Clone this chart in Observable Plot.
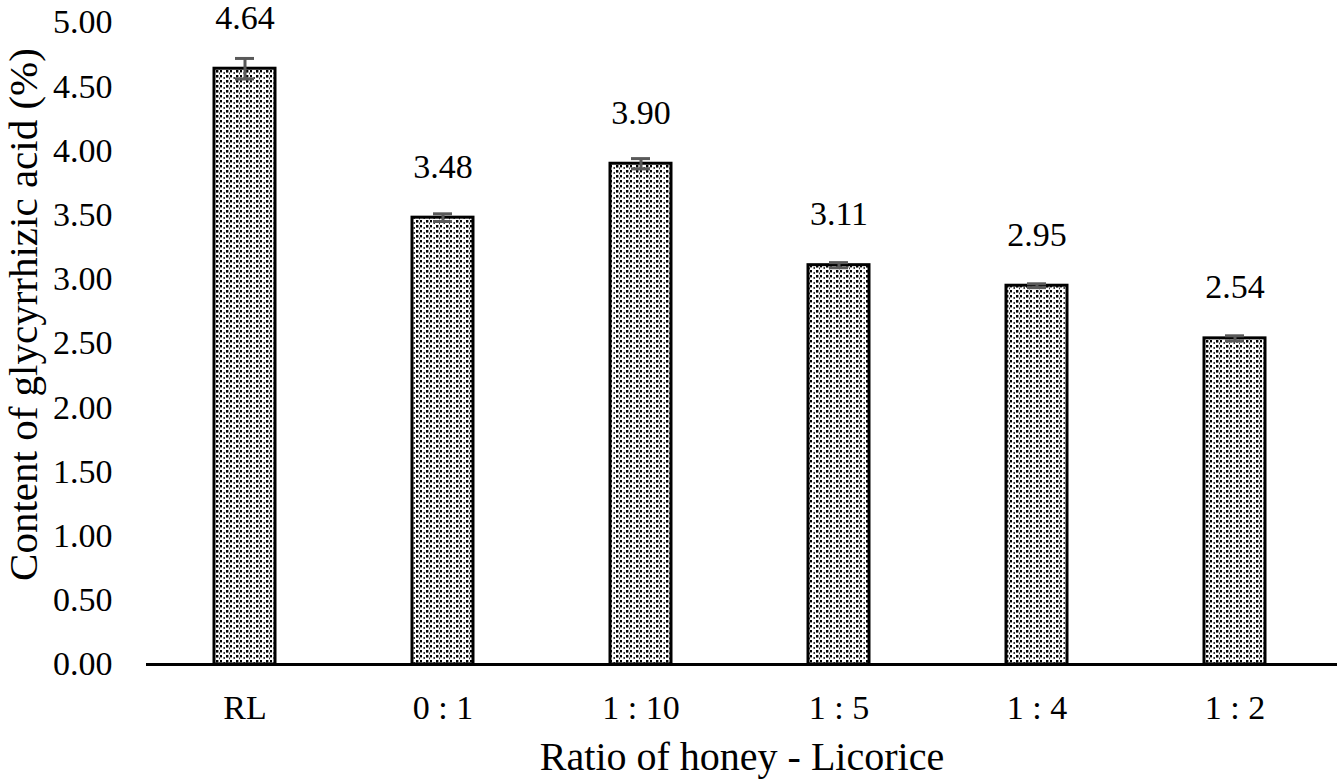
<!DOCTYPE html>
<html>
<head>
<meta charset="utf-8">
<script src="https://cdn.jsdelivr.net/npm/d3@7"></script>
<script src="https://cdn.jsdelivr.net/npm/@observablehq/plot@0.6"></script>
<style>
  html, body { margin: 0; padding: 0; background: #fff; }
  #chart { width: 1337px; height: 782px; }
</style>
</head>
<body>
<div id="chart"></div>
<script>
const categories = ["RL", "0 : 1", "1 : 10", "1 : 5", "1 : 4", "1 : 2"];
const values = [4.64, 3.48, 3.90, 3.11, 2.95, 2.54];
const errors = [0.08, 0.03, 0.04, 0.02, 0.015, 0.02];
const yTicks = [0, 0.5, 1, 1.5, 2, 2.5, 3, 3.5, 4, 4.5, 5];

const data = categories.map((c, i) => ({cat: c, v: values[i], e: errors[i]}));
const font = "Liberation Serif, Times New Roman, serif";

const chart = Plot.plot({
  width: 1337,
  height: 782,
  marginLeft: 146,
  marginRight: 0,
  marginTop: 22,
  marginBottom: 118,
  style: {fontFamily: font, fontSize: "34px", color: "#000", background: "#fff"},
  x: {domain: categories, range: [146, 1334], paddingInner: 0.69, paddingOuter: 0.345, label: null},
  y: {domain: [0, 5], label: null},
  marks: [
    Plot.barY(data, {x: "cat", y: "v", fill: "url(#dotpat)", stroke: "#000", strokeWidth: 3}),
    Plot.ruleX(data, {x: "cat", y1: d => d.v - d.e, y2: d => d.v + d.e, stroke: "#595959", strokeWidth: 3}),
    Plot.tickY(data, {x: "cat", y: d => d.v + d.e, stroke: "#595959", strokeWidth: 3, inset: 21}),
    Plot.tickY(data, {x: "cat", y: d => d.v - d.e, stroke: "#595959", strokeWidth: 3, inset: 21}),
    Plot.text(data, {x: "cat", y: "v", text: d => d.v.toFixed(2), dy: -51, fontSize: 34, fill: "#000"}),
    Plot.axisY({ticks: yTicks, tickFormat: d => d.toFixed(2), tickSize: 0, tickPadding: 34, fontSize: 34, label: null}),
    Plot.axisX({tickSize: 0, tickPadding: 30, fontSize: 34, label: null}),
    Plot.ruleX([0], {x: () => 146, stroke: "#000", strokeWidth: 3}),
    Plot.ruleY([0], {stroke: "#000", strokeWidth: 3}),
    Plot.text(["Ratio of honey - Licorice"], {frameAnchor: "bottom", dy: 105, fontSize: 40, fill: "#000"}),
    Plot.text(["Content of glycyrrhizic acid (%)"], {frameAnchor: "left", dx: -123, dy: -29, rotate: -90, textAnchor: "middle", fontSize: 41, fill: "#000"})
  ]
});

// add dotted pattern definition
const ns = "http://www.w3.org/2000/svg";
const defs = document.createElementNS(ns, "defs");
defs.innerHTML = `
<pattern id="dotpat" patternUnits="userSpaceOnUse" width="10" height="5">
  <rect width="10" height="5" fill="#fff"/>
  <rect x="0" y="0" width="2" height="2.4" fill="#000"/>
  <rect x="3.5" y="2" width="1.4" height="2" fill="#222"/>
  <rect x="6" y="0" width="2.4" height="2.6" fill="#000"/>
  <rect x="9" y="2.5" width="1" height="1.8" fill="#333"/>
</pattern>`;
chart.insertBefore(defs, chart.firstChild);
document.getElementById("chart").appendChild(chart);
</script>
</body>
</html>
